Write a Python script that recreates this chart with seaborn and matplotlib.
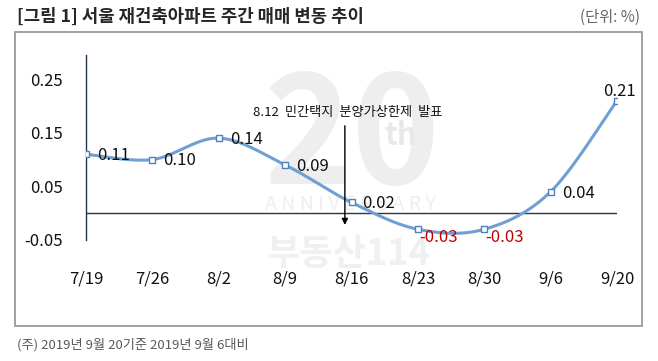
import numpy as np
import pandas as pd
import matplotlib
matplotlib.use("Agg")
import matplotlib.pyplot as plt
from matplotlib.patches import Rectangle
import seaborn as sns

# ---------------- data ----------------
dates = ["7/19", "7/26", "8/2", "8/9", "8/16", "8/23", "8/30", "9/6", "9/20"]
changes = [0.11, 0.10, 0.14, 0.09, 0.02, -0.03, -0.03, 0.04, 0.21]
value_labels = ["0.11", "0.10", "0.14", "0.09", "0.02", "-0.03", "-0.03", "0.04", "0.21"]
y_ticks = [-0.05, 0.05, 0.15, 0.25]
y_tick_labels = ["-0.05", "0.05", "0.15", "0.25"]
title = "[그림 1] 서울 재건축아파트 주간 매매 변동 추이"
unit_text = "(단위: %)"
note_text = "(주) 2019년 9월 20기준 2019년 9월 6대비"
event_text = "8.12  민간택지  분양가상한제  발표"

# ---------------- style ----------------
sns.set_style("white")
plt.rcParams["font.family"] = ["Noto Sans CJK KR", "DejaVu Sans"]
LINE = "#6F9FD3"
MARK = "#4F81BD"
AXC = "#22384F"
NEG = "#C00000"
WM = "#eeeeee"

W, H = 658, 361
fig = plt.figure(figsize=(W / 100, H / 100), dpi=100)
fig.patch.set_facecolor("white")

# background layer: frame + faint watermark
bg = fig.add_axes([0, 0, 1, 1], zorder=-5)
bg.set_xlim(0, W)
bg.set_ylim(H, 0)
bg.axis("off")
bg.add_patch(Rectangle((15, 32), 642 - 15, 326 - 32, fill=False,
                       edgecolor="#9a9a9a", linewidth=1.3))
bg.text(352, 140, "20", fontsize=108, fontweight="bold", color=WM,
        ha="center", va="center")
bg.text(401, 136, "th", fontsize=22, fontweight="bold", color="#e8e8e8",
        ha="center", va="center")
bg.text(350, 205, "A N N I V E R S A R Y", fontsize=14, color=WM,
        ha="center", va="center")
bg.text(348, 255, "부동산114", fontsize=26, fontweight="bold", color="#f0f0f0",
        ha="center", va="center")

ax = fig.add_axes([86 / W, 1 - 240 / H, (617 - 86) / W, (240 - 55) / H], zorder=1)
ax.set_facecolor("none")

# smooth (Excel-like) curve through the points
idx = np.arange(len(dates), dtype=float)
vals = np.array(changes)


def smooth(xs, ys, n=40):
    P = np.column_stack([xs, ys])
    out = []
    for i in range(len(P) - 1):
        p0 = P[max(i - 1, 0)]
        p1 = P[i]
        p2 = P[i + 1]
        p3 = P[min(i + 2, len(P) - 1)]
        c1 = p1 + (p2 - p0) / 6
        c2 = p2 - (p3 - p1) / 6
        t = np.linspace(0, 1, n)[:, None]
        seg = (1 - t) ** 3 * p1 + 3 * (1 - t) ** 2 * t * c1 + 3 * (1 - t) * t ** 2 * c2 + t ** 3 * p2
        out.append(seg if i == 0 else seg[1:])
    return np.vstack(out)


curve = smooth(idx, vals)
curve_df = pd.DataFrame({"x": curve[:, 0], "y": curve[:, 1]})
pts_df = pd.DataFrame({"x": idx, "y": vals, "date": dates})

ax.axhline(0, color=AXC, linewidth=1.0, zorder=1)
sns.lineplot(data=curve_df, x="x", y="y", sort=False, estimator=None, ax=ax,
             color=LINE, linewidth=2.2, zorder=2)
sns.scatterplot(data=pts_df, x="x", y="y", ax=ax, marker="s", s=20,
                facecolor="white", edgecolor=MARK, linewidth=1.0, zorder=3)

# data labels
for i, (v, lab) in enumerate(zip(changes, value_labels)):
    col = NEG if v < 0 else "#111111"
    if i == len(changes) - 1:
        off, ha, va = (2, 6.5), "center", "center"
    elif v < 0:
        off, ha, va = (1, -6), "left", "center"
    else:
        off, ha, va = (8, -1), "left", "center"
    ax.annotate(lab, (i, v), xytext=off, textcoords="offset points",
                ha=ha, va=va, fontsize=12, color=col, zorder=5)

# event annotation
event_x = 3.9
ax.annotate("", xy=(event_x, -0.022), xytext=(event_x, 0.163),
            arrowprops=dict(arrowstyle="-|>", color="black", lw=1.0,
                            mutation_scale=9, shrinkA=0, shrinkB=0), zorder=6)
ax.text(3.95, 0.187, event_text, fontsize=9.5, ha="center", va="center",
        color="#111111", zorder=6)

# axes
ax.set_xlim(0, len(dates) - 1)
ax.set_ylim(-0.05, 0.295)
ax.set_xticks(idx)
ax.set_xticklabels(dates)
ax.set_yticks(y_ticks)
ax.set_yticklabels(y_tick_labels)
ax.set_xlabel("")
ax.set_ylabel("")
for s in ["top", "right", "bottom"]:
    ax.spines[s].set_visible(False)
ax.spines["left"].set_color(AXC)
ax.spines["left"].set_linewidth(1.0)
ax.tick_params(axis="y", direction="in", length=4, width=1.0, color=AXC,
               labelsize=12, labelcolor="#111111", pad=17)
ax.tick_params(axis="x", length=0, labelsize=12, labelcolor="#111111", pad=22)
ax.grid(False)

# title, unit, note
fig.text(17 / W, 1 - 17 / H, title, fontsize=12.8, fontweight="bold", color="#262626",
         ha="left", va="center")
fig.text(640 / W, 1 - 17 / H, unit_text, fontsize=11, color="#666666",
         ha="right", va="center")
fig.text(17 / W, 1 - 345 / H, note_text, fontsize=9.5, color="#595959",
         ha="left", va="center")

fig.savefig("out.png", dpi=100)
